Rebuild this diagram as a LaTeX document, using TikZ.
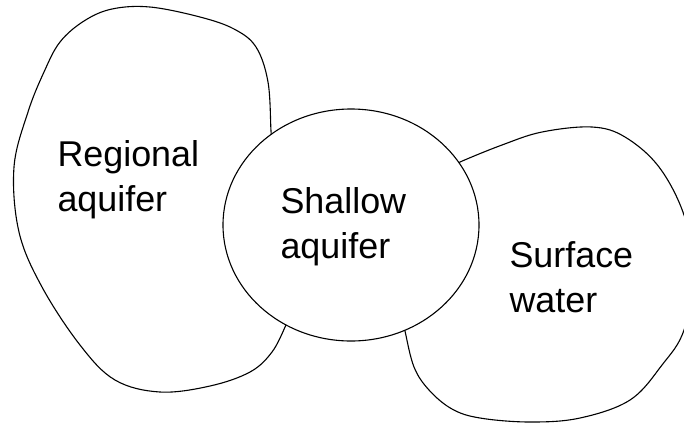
\documentclass[tikz,border=0pt]{standalone}
\usepackage{fontspec}
\setmainfont{Liberation Sans}
\usetikzlibrary{shapes.geometric}
\begin{document}
\begin{tikzpicture}[x=1bp,y=-1bp, line width=1.1bp,
  lbl/.style={align=left, inner sep=0pt, anchor=base west, font=\fontsize{36}{44.5}\selectfont},
  blob/.style={draw=black, line join=round}]
\useasboundingbox (0,0) rectangle (684,423);
\clip (0,0) rectangle (684,423);
% Regional aquifer outline
\draw[blob] plot[smooth, tension=0.6] coordinates {(272,145) (271,131) (268,82) (256,47) (234,29) (200,17) (150,7) (112,9) (84,21) (60,42) (44,72) (28,112) (14,167) (19,232) (42,287) (80,345) (115,380) (160,392) (210,386) (250,372) (272,352) (286,325) (290,315)};
% Surface water outline
\draw[blob] plot[smooth, tension=0.6] coordinates {(450,168) (460,162) (502,145) (542,132) (592,127) (625,137) (659,167) (684,215) (694,270) (684,330) (662,365) (630,400) (580,418) (530,422) (480,418) (452,409) (429,390) (414,367) (405,331) (403,320)};
% Shallow aquifer
\node[draw=black, fill=white, ellipse, minimum width=256bp, minimum height=232bp, inner sep=0pt] (shallow) at (351,225) {};
\node[lbl] (reg) at (57,211) {Regional\\aquifer};
\node[lbl] (sha) at (280,258) {Shallow\\aquifer};
\node[lbl] (sur) at (509,312) {Surface\\water};
\end{tikzpicture}
\end{document}
